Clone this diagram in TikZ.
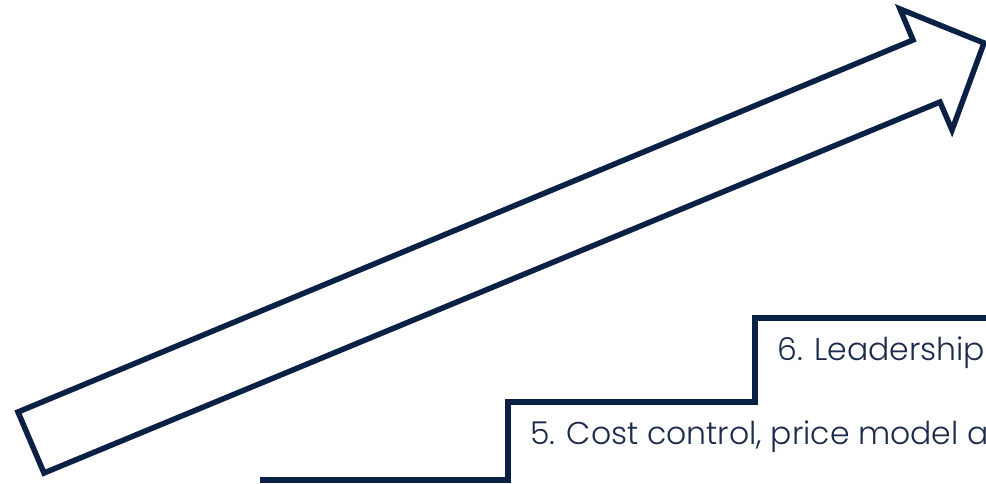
\documentclass[tikz,border=0pt]{standalone}
\usepackage{fontspec}
\setmainfont{Poppins}[UprightFont=* Light]
\definecolor{navy}{HTML}{0B2045}
\definecolor{txt}{HTML}{1C2B4C}
\begin{document}
\begin{tikzpicture}[x=1pt,y=-1pt,
  outline/.style={draw=navy,line width=5.5pt,line join=miter},
  lbl/.style={anchor=base west,inner sep=0pt,text=txt,font=\fontsize{31.5}{34}\selectfont}]
\useasboundingbox (0,0) rectangle (986,483);
\clip (0,0) rectangle (986,483);
\coordinate (t1) at (44,473);
\coordinate (t2) at (18,412);
\coordinate (n1) at (913,40);
\coordinate (b1) at (900,9);
\coordinate (tip) at (984,43);
\coordinate (b2) at (952,130);
\coordinate (n2) at (940,102);
\draw[outline] (t1) -- (t2) -- (n1) -- (b1) -- (tip) -- (b2) -- (n2) -- cycle;
\coordinate (s0) at (260,480);
\coordinate (s1) at (508,480);
\coordinate (s2) at (508,402);
\coordinate (s3) at (755,402);
\coordinate (s4) at (755,318);
\coordinate (s5) at (990,318);
\draw[outline] (s0) -- (s1) -- (s2) -- (s3) -- (s4) -- (s5);
\node[lbl] (l6) at (777,360) {6. Leadership};
\node[lbl] (l5) at (530,444) {5. Cost control, price model a};
\end{tikzpicture}
\end{document}
